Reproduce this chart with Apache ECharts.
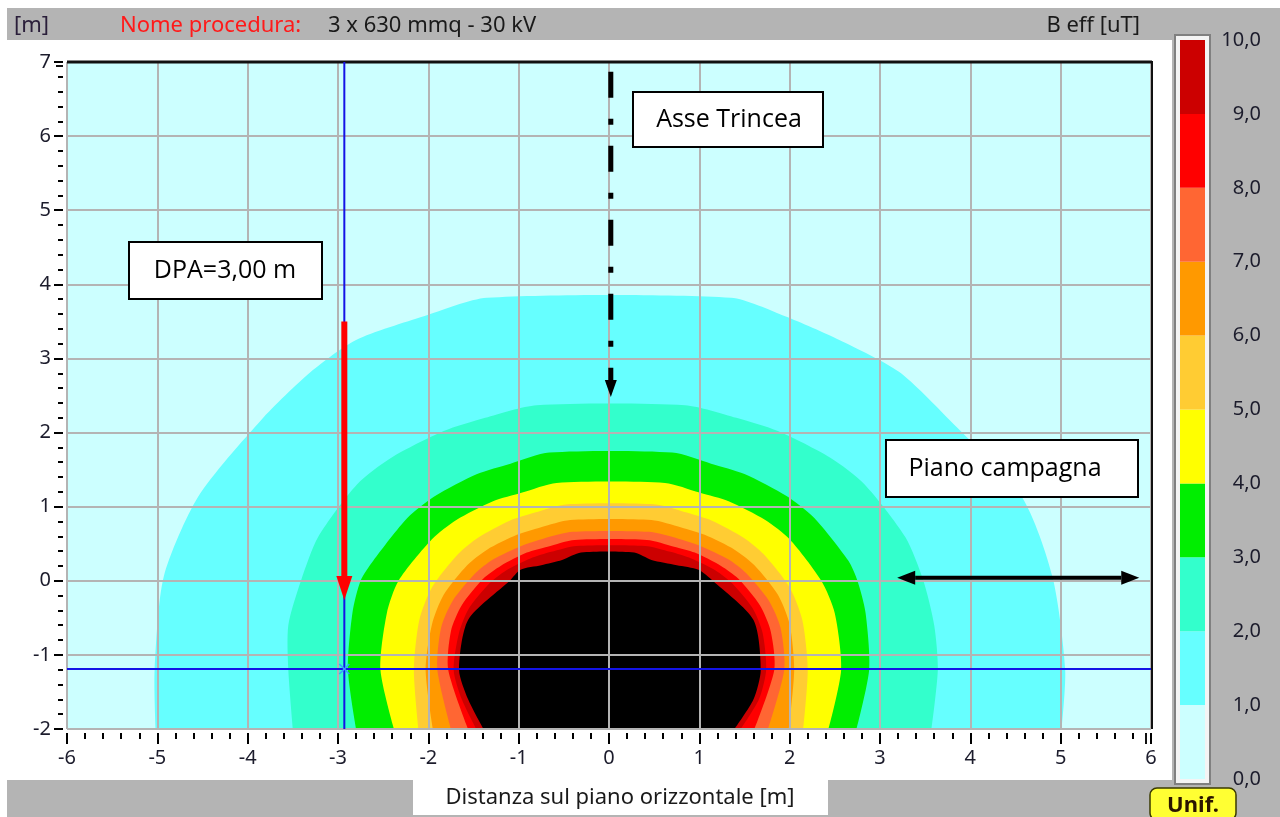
<!DOCTYPE html>
<html>
<head>
<meta charset="utf-8">
<script src="https://cdn.jsdelivr.net/npm/echarts@6/dist/echarts.min.js"></script>
<style>
  html, body { margin: 0; padding: 0; background: #ffffff; }
  #chart { width: 1280px; height: 817px; }
</style>
</head>
<body>
<div id="chart"></div>
<script>
// Field strength thresholds (uT) that bound each coloured band
const levelThresholds = [1, 2, 3, 4, 5, 6, 7, 8, 9, 10];

// Iso-field outlines, rows of [y, x of left edge, x of right edge] in metres
const b1Rows = [
  [-2.00, -5.02, 5.01], [-1.20, -5.03, 5.05], [0.05, -4.93, 4.91], [1.13, -4.55, 4.57],
  [2.17, -3.85, 3.77], [2.82, -3.30, 3.21], [3.25, -2.80, 2.55], [3.57, -2.05, 1.95], [3.82, -1.35, 1.35]
];
const b2Rows = [
  [-2.00, -3.50, 3.57], [-1.20, -3.55, 3.64], [-0.60, -3.55, 3.60], [0.00, -3.41, 3.48], [0.59, -3.22, 3.28],
  [1.30, -2.79, 2.83], [1.66, -2.41, 2.45], [2.02, -1.83, 1.87], [2.20, -1.37, 1.41], [2.37, -0.80, 0.84]
];
const b3Rows = [
  [-2.00, -2.80, 2.74], [-1.20, -2.89, 2.88], [-0.43, -2.84, 2.84], [0.00, -2.75, 2.75], [0.27, -2.61, 2.65],
  [0.85, -2.23, 2.27], [1.14, -1.93, 1.97], [1.44, -1.46, 1.50], [1.58, -1.09, 1.13], [1.73, -0.66, 0.70]
];
const b4Rows = [
  [-2.00, -2.38, 2.43], [-1.20, -2.53, 2.57], [-0.44, -2.46, 2.50], [0.00, -2.33, 2.35],
  [0.56, -1.96, 2.00], [0.82, -1.69, 1.73], [1.07, -1.29, 1.33], [1.19, -0.96, 1.00], [1.32, -0.58, 0.62]
];
const b5Rows = [
  [-2.00, -2.11, 2.15], [-1.20, -2.16, 2.20], [-0.53, -2.10, 2.14], [-0.09, -1.96, 2.00],
  [0.36, -1.67, 1.71], [0.58, -1.45, 1.49], [0.81, -1.10, 1.14], [0.92, -0.82, 0.86], [1.03, -0.48, 0.52]
];
const b6Rows = [
  [-2.00, -1.95, 1.99], [-1.20, -2.03, 2.05], [-0.59, -1.96, 2.00], [-0.19, -1.83, 1.87],
  [0.21, -1.57, 1.61], [0.42, -1.35, 1.39], [0.62, -1.02, 1.06], [0.72, -0.76, 0.80], [0.82, -0.43, 0.47]
];
const b7Rows = [
  [-2.00, -1.75, 1.76], [-1.20, -1.90, 1.94], [-0.64, -1.86, 1.90], [-0.27, -1.73, 1.77],
  [0.10, -1.48, 1.52], [0.29, -1.28, 1.32], [0.47, -0.97, 1.01], [0.57, -0.72, 0.76], [0.66, -0.40, 0.44]
];
const b8Rows = [
  [-2.00, -1.56, 1.61], [-1.20, -1.78, 1.83], [-0.68, -1.75, 1.79], [-0.33, -1.63, 1.67],
  [0.03, -1.39, 1.43], [0.20, -1.20, 1.24], [0.38, -0.91, 0.95], [0.46, -0.68, 0.72], [0.55, -0.38, 0.42]
];
const b9Rows = [
  [-2.00, -1.47, 1.46], [-1.60, -1.63, 1.66], [-1.20, -1.72, 1.74], [-0.70, -1.66, 1.70], [-0.37, -1.55, 1.59],
  [-0.03, -1.32, 1.36], [0.14, -1.14, 1.18], [0.30, -0.87, 0.91], [0.39, -0.64, 0.68], [0.47, -0.36, 0.40]
];
const b10Rows = [
  [-2.00, -1.39, 1.39], [-1.60, -1.56, 1.60], [-1.20, -1.66, 1.68], [-0.53, -1.56, 1.60],
  [0.00, -1.10, 1.15], [0.15, -0.98, 0.99], [0.21, -0.75, 0.75], [0.28, -0.52, 0.47], [0.38, -0.31, 0.28]
];
const contourRows = [b1Rows, b2Rows, b3Rows, b4Rows, b5Rows, b6Rows, b7Rows, b8Rows, b9Rows, b10Rows];

// Colour scale: below 1 uT, then one colour per band above each threshold
const baseColor = '#ccffff';
const bandColors = ['#66ffff', '#33ffcc', '#00ee00', '#ffff00', '#ffcc33',
                    '#ff9900', '#ff6633', '#ff0000', '#cc0000', '#000000'];
const colorbarBands = [0, 1, 2, 3, 4, 5, 6, 7, 8, 9];
const colorbarLabels = ['0,0', '1,0', '2,0', '3,0', '4,0', '5,0', '6,0', '7,0', '8,0', '9,0', '10,0'];

// Annotations (metres)
const trenchAxis = [[0.02, 6.87], [0.02, 2.48]];
const dpaArrow = [[-2.93, 3.50], [-2.93, -0.26]];
const groundArrow = [[3.19, 0.04], [5.87, 0.04]];
const cursorPoint = [-2.93, -1.19];

const uiFont = 'Noto Sans';
const noteFont = 'Open Sans';

function arrowHead(tip, from, len, wid, color) {
  const dx = tip[0] - from[0], dy = tip[1] - from[1];
  const d = Math.hypot(dx, dy), ux = dx / d, uy = dy / d;
  const bx = tip[0] - ux * len, by = tip[1] - uy * len;
  return {
    head: {
      type: 'polygon',
      shape: { points: [tip, [bx - uy * wid / 2, by + ux * wid / 2], [bx + uy * wid / 2, by - ux * wid / 2]] },
      style: { fill: color }
    },
    base: [bx, by]
  };
}

// Open outline (right edges bottom to top, then left edges top to bottom);
// filling closes it along the bottom of the section
function renderContour(params, api) {
  const rows = contourRows[api.value(2)];
  const pts = [];
  for (let i = 0; i < rows.length; i++) pts.push(api.coord([rows[i][2], rows[i][0]]));
  for (let i = rows.length - 1; i >= 0; i--) pts.push(api.coord([rows[i][1], rows[i][0]]));
  return {
    type: 'polyline',
    shape: { points: pts, smooth: 0.25 },
    style: { fill: bandColors[api.value(2)], stroke: 'none' }
  };
}

function renderTrench(params, api) {
  const a = api.coord(trenchAxis[0]), b = api.coord(trenchAxis[1]);
  const h = arrowHead(b, a, 17, 12, '#000');
  return {
    type: 'group',
    children: [
      { type: 'line', shape: { x1: a[0], y1: a[1], x2: h.base[0], y2: h.base[1] },
        style: { stroke: '#000', lineWidth: 5, lineDash: [26, 21, 6, 21] } },
      h.head
    ]
  };
}

function renderDpa(params, api) {
  const a = api.coord(dpaArrow[0]), b = api.coord(dpaArrow[1]);
  const h = arrowHead(b, a, 24, 16, '#ff0000');
  return {
    type: 'group',
    children: [
      { type: 'line', shape: { x1: a[0], y1: a[1], x2: h.base[0], y2: h.base[1] },
        style: { stroke: '#ff0000', lineWidth: 6 } },
      h.head
    ]
  };
}

function renderGround(params, api) {
  const a = api.coord(groundArrow[0]), b = api.coord(groundArrow[1]);
  const h1 = arrowHead(b, a, 18, 14, '#000');
  const h2 = arrowHead(a, b, 18, 14, '#000');
  return {
    type: 'group',
    children: [
      { type: 'line', shape: { x1: h2.base[0], y1: h2.base[1], x2: h1.base[0], y2: h1.base[1] },
        style: { stroke: '#000', lineWidth: 4 } },
      h1.head, h2.head
    ]
  };
}

function renderCursor(params, api) {
  const top = api.coord([cursorPoint[0], 7]), bottom = api.coord([cursorPoint[0], -2]);
  const left = api.coord([-6, cursorPoint[1]]), right = api.coord([6, cursorPoint[1]]);
  const c = api.coord(cursorPoint);
  const s = 5;
  return {
    type: 'group',
    children: [
      { type: 'line', shape: { x1: top[0], y1: top[1], x2: bottom[0], y2: bottom[1] },
        style: { stroke: '#1414e6', lineWidth: 2 } },
      { type: 'line', shape: { x1: left[0], y1: left[1], x2: right[0], y2: right[1] },
        style: { stroke: '#1414e6', lineWidth: 2 } },
      { type: 'line', shape: { x1: c[0] - s, y1: c[1] - s, x2: c[0] + s, y2: c[1] + s },
        style: { stroke: '#3c9cff', lineWidth: 1.5 } },
      { type: 'line', shape: { x1: c[0] - s, y1: c[1] + s, x2: c[0] + s, y2: c[1] - s },
        style: { stroke: '#3c9cff', lineWidth: 1.5 } }
    ]
  };
}

function renderBand(params, api) {
  const v = api.value(0);
  const p0 = api.coord([0, v + 1]), p1 = api.coord([1, v]);
  return {
    type: 'rect',
    shape: { x: p0[0], y: p0[1], width: p1[0] - p0[0], height: p1[1] - p0[1] },
    style: { fill: v === 0 ? baseColor : bandColors[v - 1] }
  };
}

const tickStyle = { color: '#000', width: 2 };
const labelStyle = { fontFamily: uiFont, fontSize: 20, color: '#1c1c2c' };

function noteBox(x, y, w, h, text, tx) {
  return [
    { type: 'rect', z: 100, shape: { x: x, y: y, width: w, height: h },
      style: { fill: '#ffffff', stroke: '#000000', lineWidth: 2 } },
    { type: 'text', z: 101, x: tx, y: y + h / 2,
      style: { text: text, font: '25px "' + noteFont + '"', fill: '#000', align: 'center', verticalAlign: 'middle' } }
  ];
}

const chart = echarts.init(document.getElementById('chart'), null, { renderer: 'canvas' });

chart.setOption({
  animation: false,
  backgroundColor: '#ffffff',
  grid: [
    { left: 67, top: 62, width: 1084, height: 667, show: true, backgroundColor: baseColor, borderWidth: 0 },
    { left: 1180, top: 40, width: 25, height: 739, show: false }
  ],
  xAxis: [
    {
      gridIndex: 0, type: 'value', min: -6, max: 6, interval: 1, offset: 4, z: 3,
      axisLine: { show: false, onZero: false },
      axisTick: { show: true, length: 11, lineStyle: tickStyle },
      minorTick: { show: true, splitNumber: 5, length: 6, lineStyle: tickStyle },
      axisLabel: Object.assign({ margin: 15 }, labelStyle),
      splitLine: { show: true, lineStyle: { color: '#b4b4b4', width: 2 } }
    },
    { gridIndex: 1, type: 'value', min: 0, max: 1, show: false }
  ],
  yAxis: [
    {
      gridIndex: 0, type: 'value', min: -2, max: 7, interval: 1, offset: 4, z: 3,
      axisLine: { show: false, onZero: false },
      axisTick: { show: true, length: 9, lineStyle: tickStyle },
      minorTick: { show: true, splitNumber: 5, length: 5, lineStyle: tickStyle },
      axisLabel: Object.assign({ margin: 12 }, labelStyle),
      splitLine: { show: true, lineStyle: { color: '#b4b4b4', width: 2 } }
    },
    {
      gridIndex: 1, type: 'value', min: 0, max: 10, interval: 1, position: 'right',
      axisLine: { show: false, onZero: false }, axisTick: { show: false }, splitLine: { show: false },
      axisLabel: Object.assign({}, labelStyle, {
        align: 'right', margin: 56,
        formatter: function (v) { return colorbarLabels[Math.round(v)]; }
      })
    }
  ],
  series: [
    {
      type: 'custom', coordinateSystem: 'cartesian2d', xAxisIndex: 0, yAxisIndex: 0, z: 1, clip: true,
      encode: { x: 0, y: 1 },
      data: levelThresholds.map(function (t, i) { return [0, 0, i]; }),
      renderItem: renderContour
    },
    {
      type: 'custom', coordinateSystem: 'cartesian2d', xAxisIndex: 0, yAxisIndex: 0, z: 10,
      data: [cursorPoint], renderItem: renderCursor
    },
    {
      type: 'custom', coordinateSystem: 'cartesian2d', xAxisIndex: 0, yAxisIndex: 0, z: 11,
      data: [trenchAxis[0]], renderItem: renderTrench
    },
    {
      type: 'custom', coordinateSystem: 'cartesian2d', xAxisIndex: 0, yAxisIndex: 0, z: 12,
      data: [dpaArrow[0]], renderItem: renderDpa
    },
    {
      type: 'custom', coordinateSystem: 'cartesian2d', xAxisIndex: 0, yAxisIndex: 0, z: 12,
      data: [groundArrow[0]], renderItem: renderGround
    },
    {
      type: 'custom', coordinateSystem: 'cartesian2d', xAxisIndex: 1, yAxisIndex: 1, z: 5,
      data: colorbarBands.map(function (b) { return [b]; }), encode: { x: -1, y: 0 },
      renderItem: renderBand
    }
  ],
  graphic: [
    // window chrome
    { type: 'rect', z: -10, shape: { x: 7, y: 8, width: 1273, height: 32 }, style: { fill: '#b4b4b4' } },
    { type: 'rect', z: -10, shape: { x: 1172, y: 8, width: 108, height: 809 }, style: { fill: '#b4b4b4' } },
    { type: 'rect', z: -10, shape: { x: 7, y: 780, width: 1273, height: 37 }, style: { fill: '#b4b4b4' } },
    { type: 'rect', z: -9, shape: { x: 413, y: 780, width: 415, height: 35 }, style: { fill: '#ffffff' } },
    { type: 'text', z: 20, x: 14, y: 26, style: { text: '[m]', font: '22px "' + uiFont + '"', fill: '#2a1e3a', verticalAlign: 'middle' } },
    { type: 'text', z: 20, x: 120, y: 26, style: { text: 'Nome procedura:', font: '22px "' + uiFont + '"', fill: '#ff1a1a', verticalAlign: 'middle' } },
    { type: 'text', z: 20, x: 328, y: 26, style: { text: '3 x 630 mmq - 30 kV', font: '22px "' + uiFont + '"', fill: '#1a1a1a', verticalAlign: 'middle' } },
    { type: 'text', z: 20, x: 1140, y: 26, style: { text: 'B eff [uT]', font: '22px "' + uiFont + '"', fill: '#1a1a1a', align: 'right', verticalAlign: 'middle' } },
    { type: 'text', z: 20, x: 620, y: 798, style: { text: 'Distanza sul piano orizzontale [m]', font: '22px "' + uiFont + '"', fill: '#1a1a1a', align: 'center', verticalAlign: 'middle' } },
    // colour bar frame
    { type: 'rect', z: 1, shape: { x: 1175, y: 35, width: 35, height: 749 }, style: { fill: '#f4f4f4', stroke: '#808080', lineWidth: 2 } },
    // plot frame and the doubled end ticks
    { type: 'line', z: 8, shape: { x1: 67, y1: 62, x2: 1152, y2: 62 }, style: { stroke: '#111', lineWidth: 3 } },
    { type: 'line', z: 8, shape: { x1: 1152, y1: 61, x2: 1152, y2: 729 }, style: { stroke: '#111', lineWidth: 2 } },
    { type: 'line', z: 8, shape: { x1: 56, y1: 66, x2: 63, y2: 66 }, style: { stroke: '#111', lineWidth: 2 } },
    { type: 'line', z: 8, shape: { x1: 1146, y1: 733, x2: 1146, y2: 744 }, style: { stroke: '#111', lineWidth: 2 } },
    // Unif. button
    { type: 'rect', z: 20, shape: { x: 1150, y: 788, width: 86, height: 32, r: 7 }, style: { fill: '#ffff33', stroke: '#3a3a00', lineWidth: 1.5 } },
    { type: 'text', z: 21, x: 1193, y: 806, style: { text: 'Unif.', font: 'bold 22px "' + uiFont + '"', fill: '#2a1400', align: 'center', verticalAlign: 'middle' } }
  ]
    .concat(noteBox(633, 92, 190, 55, 'Asse Trincea', 729))
    .concat(noteBox(129, 242, 193, 57, 'DPA=3,00 m', 225))
    .concat(noteBox(886, 440, 252, 57, 'Piano campagna', 1005))
});
</script>
</body>
</html>
